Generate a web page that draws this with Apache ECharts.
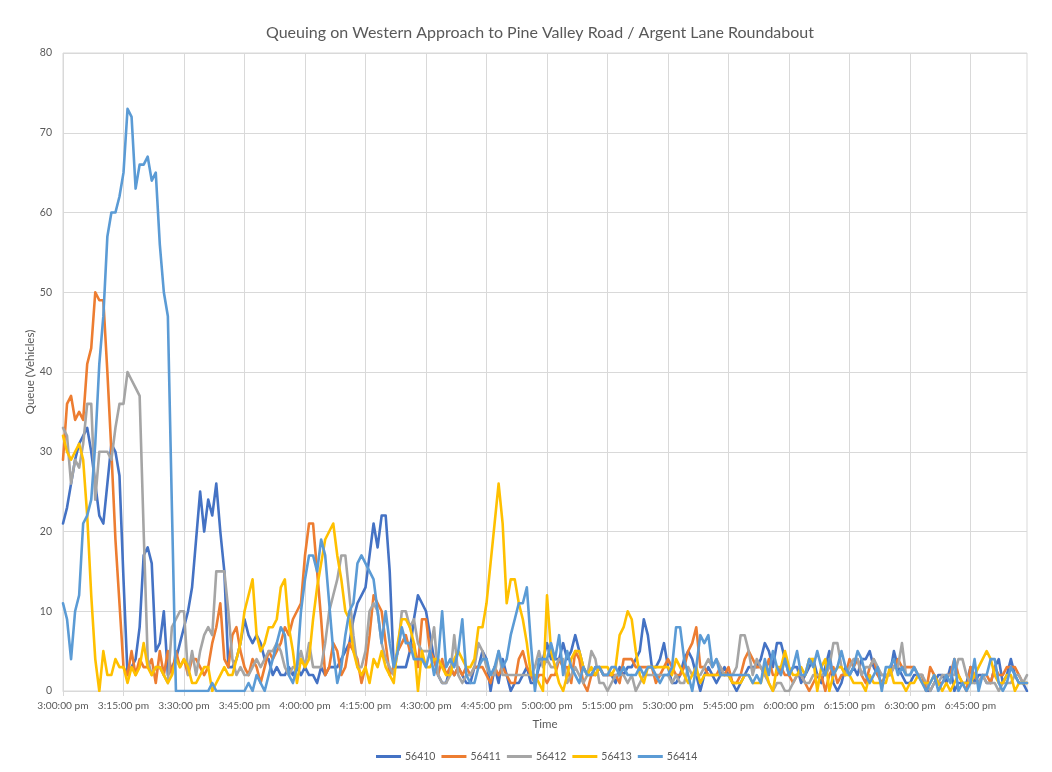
<!DOCTYPE html>
<html>
<head>
<meta charset="utf-8">
<script src="https://cdn.jsdelivr.net/npm/echarts/dist/echarts.min.js"></script>
<style>
  html, body { margin: 0; padding: 0; background: #ffffff; }
  #chart { width: 1052px; height: 772px; }
</style>
</head>
<body>
<div id="chart"></div>
<script>
// Queue length (vehicles) per minute, 3:00 pm to 6:59 pm, one array per run
const seriesNames = ['56410', '56411', '56412', '56413', '56414'];

const s56410 = [
  21, 23, 26, 29, 31, 32, 33, 30, 26, 22,
  21, 26, 31, 30, 27, 14, 2, 3, 4, 8,
  17, 18, 16, 5, 6, 10, 2, 3, 4, 6,
  8, 10, 13, 19, 25, 20, 24, 22, 26, 20,
  15, 3, 3, 4, 6, 9, 7, 6, 7, 6,
  4, 4, 2, 3, 2, 2, 3, 2, 3, 2,
  3, 2, 2, 1, 3, 2, 3, 3, 3, 4,
  5, 6, 9, 11, 12, 13, 17, 21, 18, 22,
  22, 15, 3, 3, 3, 3, 5, 9, 12, 11,
  10, 7, 4, 2, 1, 1, 3, 2, 3, 2,
  1, 1, 3, 3, 5, 4, 0, 3, 1, 4,
  2, 0, 1, 1, 2, 3, 1, 1, 3, 4,
  6, 4, 4, 4, 6, 4, 5, 7, 5, 3,
  2, 2, 3, 3, 2, 2, 2, 1, 3, 2,
  3, 3, 4, 5, 9, 7, 3, 3, 4, 6,
  3, 1, 1, 2, 4, 5, 4, 2, 0, 2,
  3, 2, 1, 2, 3, 2, 1, 0, 1, 2,
  3, 3, 3, 4, 6, 5, 3, 6, 6, 4,
  2, 3, 3, 1, 2, 3, 4, 2, 1, 3,
  5, 1, 0, 1, 3, 2, 3, 2, 4, 4,
  5, 3, 2, 2, 2, 2, 5, 3, 2, 1,
  1, 2, 2, 2, 0, 0, 1, 2, 2, 1,
  3, 0, 1, 1, 1, 3, 1, 2, 2, 1,
  1, 3, 4, 1, 2, 4, 2, 1, 1, 0
];

const s56411 = [
  29, 36, 37, 34, 35, 34, 41, 43, 50, 49,
  49, 40, 30, 19, 11, 3, 2, 5, 2, 4,
  3, 3, 4, 1, 5, 2, 5, 2, 5, 3,
  4, 2, 4, 4, 3, 2, 3, 6, 8, 11,
  4, 3, 7, 8, 5, 3, 2, 4, 3, 1,
  3, 5, 4, 5, 6, 8, 7, 9, 10, 11,
  17, 21, 21, 15, 9, 2, 3, 6, 5, 2,
  3, 6, 5, 4, 1, 3, 7, 12, 11, 10,
  6, 2, 3, 5, 6, 7, 5, 6, 3, 9,
  9, 5, 4, 2, 4, 2, 3, 2, 3, 2,
  3, 2, 3, 3, 3, 2, 1, 3, 2, 3,
  2, 1, 1, 4, 5, 3, 2, 1, 2, 2,
  1, 2, 2, 4, 3, 3, 1, 5, 4, 1,
  0, 2, 2, 3, 2, 2, 2, 2, 1, 4,
  4, 4, 3, 3, 3, 3, 3, 1, 2, 3,
  4, 3, 2, 2, 3, 5, 6, 8, 3, 3,
  2, 2, 2, 3, 2, 3, 1, 1, 2, 4,
  5, 4, 3, 3, 2, 4, 2, 2, 3, 2,
  2, 1, 2, 2, 1, 0, 1, 2, 2, 0,
  2, 3, 1, 2, 2, 4, 3, 4, 2, 1,
  3, 4, 2, 1, 2, 2, 3, 4, 3, 3,
  3, 3, 2, 2, 0, 3, 2, 1, 1, 2,
  2, 4, 2, 1, 0, 3, 2, 1, 2, 2,
  1, 3, 2, 2, 3, 3, 3, 2, 1, 1
];

const s56412 = [
  33, 32, 26, 29, 28, 31, 36, 36, 24, 30,
  30, 30, 29, 33, 36, 36, 40, 39, 38, 37,
  20, 4, 2, 3, 3, 2, 1, 8, 9, 10,
  10, 2, 5, 2, 5, 7, 8, 7, 15, 15,
  15, 10, 4, 2, 3, 2, 2, 3, 4, 3,
  4, 5, 5, 6, 5, 3, 2, 3, 3, 5,
  3, 6, 3, 3, 3, 6, 10, 12, 14, 17,
  17, 12, 7, 3, 3, 5, 10, 11, 10, 6,
  4, 3, 2, 5, 10, 10, 8, 9, 6, 5,
  5, 5, 8, 2, 1, 1, 2, 7, 2, 1,
  2, 2, 3, 6, 5, 3, 2, 2, 5, 2,
  2, 2, 2, 2, 2, 2, 2, 3, 5, 3,
  4, 3, 3, 4, 4, 1, 2, 3, 2, 1,
  2, 5, 4, 1, 1, 0, 1, 2, 2, 2,
  1, 2, 0, 1, 2, 2, 2, 2, 2, 2,
  2, 1, 2, 1, 1, 3, 2, 2, 2, 3,
  4, 3, 4, 3, 2, 2, 2, 3, 7, 7,
  5, 2, 4, 3, 2, 1, 0, 1, 1, 0,
  0, 1, 2, 2, 1, 1, 2, 2, 2, 2,
  3, 6, 6, 3, 2, 3, 4, 4, 2, 3,
  3, 4, 3, 2, 2, 2, 3, 3, 6, 2,
  2, 3, 2, 2, 1, 0, 1, 1, 2, 2,
  2, 2, 4, 4, 2, 1, 1, 1, 2, 1,
  1, 1, 0, 1, 1, 1, 2, 2, 1, 2
];

const s56413 = [
  32, 30, 29, 30, 31, 29, 22, 12, 4, 0,
  5, 2, 2, 4, 3, 3, 1, 3, 2, 3,
  6, 3, 2, 3, 3, 2, 1, 2, 4, 3,
  4, 3, 1, 1, 2, 3, 3, 0, 1, 2,
  3, 2, 2, 4, 6, 10, 12, 14, 7, 5,
  6, 8, 8, 9, 13, 14, 8, 5, 1, 4,
  3, 4, 9, 13, 16, 19, 20, 21, 17, 14,
  10, 9, 5, 3, 2, 3, 1, 4, 3, 5,
  3, 2, 1, 6, 9, 9, 8, 6, 0, 5,
  3, 3, 4, 4, 3, 2, 2, 4, 5, 4,
  3, 3, 4, 8, 8, 11, 16, 21, 26, 21,
  11, 14, 14, 11, 9, 6, 2, 2, 1, 0,
  12, 5, 3, 1, 0, 2, 4, 5, 5, 3,
  2, 3, 2, 3, 3, 3, 2, 3, 7, 8,
  10, 9, 5, 2, 1, 3, 3, 3, 3, 3,
  3, 2, 4, 3, 2, 1, 2, 3, 1, 2,
  2, 2, 2, 2, 2, 2, 1, 1, 1, 2,
  2, 1, 1, 1, 3, 1, 0, 3, 3, 5,
  3, 2, 2, 3, 2, 4, 4, 0, 3, 4,
  0, 2, 3, 3, 2, 2, 1, 1, 1, 0,
  2, 1, 1, 1, 1, 3, 1, 1, 1, 0,
  1, 1, 2, 1, 1, 1, 2, 1, 0, 1,
  0, 1, 2, 1, 1, 1, 2, 3, 4, 5,
  4, 2, 1, 1, 2, 2, 0, 1, 1, 1
];

const s56414 = [
  11, 9, 4, 10, 12, 21, 22, 24, 31, 41,
  47, 57, 60, 60, 62, 65, 73, 72, 63, 66,
  66, 67, 64, 65, 56, 50, 47, 23, 0, 0,
  0, 0, 0, 0, 0, 0, 0, 1, 0, 0,
  0, 0, 0, 0, 0, 0, 1, 0, 2, 1,
  0, 2, 4, 6, 8, 7, 2, 1, 3, 10,
  14, 17, 17, 15, 19, 17, 11, 5, 1, 3,
  7, 10, 11, 16, 17, 16, 15, 14, 10, 6,
  10, 6, 3, 5, 8, 6, 6, 4, 4, 4,
  3, 5, 2, 4, 10, 3, 4, 3, 5, 9,
  2, 1, 1, 3, 4, 4, 2, 3, 5, 3,
  4, 7, 9, 11, 11, 13, 6, 0, 4, 4,
  4, 6, 4, 7, 2, 5, 3, 2, 1, 3,
  2, 2, 3, 3, 2, 2, 3, 3, 2, 3,
  2, 2, 2, 3, 2, 3, 3, 2, 1, 2,
  2, 3, 8, 8, 4, 2, 0, 3, 7, 6,
  7, 3, 4, 2, 2, 2, 2, 2, 2, 2,
  2, 1, 2, 1, 4, 2, 5, 3, 2, 4,
  2, 3, 5, 2, 2, 4, 3, 5, 3, 2,
  4, 2, 3, 5, 3, 2, 3, 5, 4, 2,
  1, 2, 3, 0, 3, 3, 4, 2, 3, 2,
  2, 3, 2, 1, 0, 1, 2, 0, 1, 2,
  1, 4, 0, 1, 0, 1, 4, 0, 2, 2,
  4, 4, 1, 0, 1, 3, 2, 1, 1, 1
];

const seriesData = [s56410, s56411, s56412, s56413, s56414];
const seriesColors = ['#4472C4', '#ED7D31', '#A5A5A5', '#FFC000', '#5B9BD5'];

// One category per minute, labelled like "3:15:00 pm"
const startMinute = 15 * 60;
const minuteCount = s56410.length;
const timeLabels = [];
for (let k = 0; k < minuteCount; k++) {
  const m = startMinute + k;
  const h = Math.floor(m / 60);
  const mm = m % 60;
  const h12 = h > 12 ? h - 12 : h;
  timeLabels.push(h12 + ':' + String(mm).padStart(2, '0') + ':00 pm');
}

const yMin = 0, yMax = 80, yStep = 10;
const labelEvery = 15;

const FONT = 'Lato, "Open Sans", sans-serif';
const TXT = '#595959';
const GRID = '#d9d9d9';

const chart = echarts.init(document.getElementById('chart'), null, { renderer: 'canvas' });

chart.setOption({
  backgroundColor: '#ffffff',
  animation: false,
  textStyle: { fontFamily: FONT },
  title: {
    text: 'Queuing on Western Approach to Pine Valley Road / Argent Lane Roundabout',
    left: 535,
    textAlign: 'center',
    top: 20,
    textStyle: { fontFamily: FONT, fontSize: 16, fontWeight: 'normal', color: TXT }
  },
  legend: {
    data: seriesNames,
    top: 751,
    left: 376,
    padding: 0,
    itemWidth: 25,
    itemHeight: 3,
    itemGap: 6,
    icon: 'rect',
    textStyle: { fontFamily: FONT, fontSize: 10.5, color: TXT, padding: [0, 0, 0, -1] }
  },
  grid: {
    left: 63, right: 25, top: 53, bottom: 81,
    show: true, borderColor: GRID, borderWidth: 1
  },
  xAxis: {
    type: 'category',
    data: timeLabels,
    boundaryGap: false,
    name: 'Time',
    nameLocation: 'middle',
    nameGap: 27,
    nameMoveOverlap: false,
    nameTextStyle: { fontFamily: FONT, fontSize: 11.5, color: TXT },
    axisLine: { show: true, lineStyle: { color: GRID, width: 1 } },
    axisTick: { show: true, interval: labelEvery - 1, length: 5, lineStyle: { color: GRID } },
    axisLabel: { interval: labelEvery - 1, color: TXT, fontSize: 10.2, margin: 10, fontFamily: FONT },
    splitLine: { show: true, interval: labelEvery - 1, lineStyle: { color: GRID, width: 1 } }
  },
  yAxis: {
    type: 'value',
    min: yMin, max: yMax, interval: yStep,
    name: 'Queue (Vehicles)',
    nameLocation: 'middle',
    nameGap: 27,
    nameMoveOverlap: false,
    nameRotate: 90,
    nameTextStyle: { fontFamily: FONT, fontSize: 11.5, color: TXT },
    axisLine: { show: false },
    axisTick: { show: false },
    axisLabel: { color: TXT, fontSize: 10.5, margin: 11, fontFamily: FONT },
    splitLine: { show: true, lineStyle: { color: GRID, width: 1 } }
  },
  series: seriesNames.map((name, k) => ({
    name: name,
    type: 'line',
    data: seriesData[k],
    symbol: 'none',
    showSymbol: false,
    color: seriesColors[k],
    lineStyle: { width: 2.6, color: seriesColors[k], join: 'round', cap: 'round' }
  }))
});
</script>
</body>
</html>
